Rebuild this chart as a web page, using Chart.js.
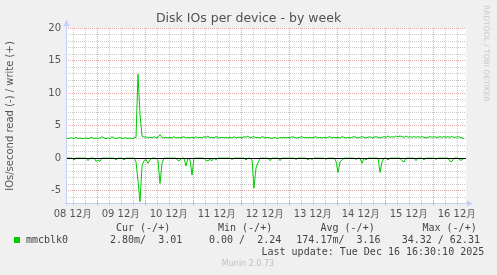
<!DOCTYPE html>
<html>
<head>
<meta charset="utf-8">
<script src="https://cdn.jsdelivr.net/npm/chart.js@4.4.1/dist/chart.umd.min.js"></script>
<style>
  body { margin: 0; background: #f0f0f0; }
  #wrap { width: 497px; height: 275px; }
</style>
</head>
<body>
<div id="wrap"><canvas id="myChart" width="497" height="275"></canvas></div>
<script>
// one value per hour, starting 08 Dec 08:30
const dayLabels = ['08 12月', '09 12月', '10 12月', '11 12月', '12 12月', '13 12月', '14 12月', '15 12月', '16 12月'];

const writeVals = [
    3.1,3.0,3.1,3.1,3.0,3.2,3.0,3.1,3.0,3.0,3.1,3.0,3.1,3.2,3.0,3.1,3.0,3.1,3.3,3.1,3.0,3.1,3.0,3.3,
    3.1,3.0,3.1,3.2,3.0,3.1,3.1,3.0,3.1,3.0,3.1,3.2,12.9,6.7,3.4,3.2,3.3,3.1,3.2,3.1,3.3,3.1,3.2,3.6,
    3.2,3.1,3.2,3.1,3.2,3.1,3.3,3.1,3.2,3.1,3.2,3.3,3.1,3.2,3.1,3.2,3.1,3.3,3.1,3.2,3.1,3.3,3.2,3.4,
    3.1,3.2,3.1,3.3,3.2,3.1,3.2,3.1,3.2,3.1,3.2,3.1,3.3,3.1,3.2,3.2,3.1,3.3,3.2,3.4,3.1,3.2,3.3,3.1,
    3.2,3.1,3.3,3.2,3.1,3.2,3.1,3.0,3.2,3.1,3.0,3.2,3.1,3.2,3.1,3.2,3.1,3.3,3.2,3.1,3.1,3.2,3.3,3.1,
    3.2,3.1,3.2,3.1,3.2,3.3,3.1,3.2,3.1,3.2,3.1,3.2,3.3,3.1,3.2,3.1,3.2,3.1,3.3,3.2,3.1,3.2,3.1,3.2,
    3.3,3.2,3.1,3.2,3.3,3.2,3.1,3.2,3.3,3.1,3.2,3.3,3.2,3.1,3.2,3.3,3.2,3.4,3.2,3.3,3.2,3.4,3.3,3.4,
    3.3,3.2,3.4,3.2,3.3,3.2,3.3,3.2,3.3,3.2,3.3,3.2,3.1,3.2,3.3,3.2,3.3,3.2,3.2,3.3,3.2,3.3,3.2,3.3,
    3.2,3.3,3.2,3.2,3.3,3.2,3.1,3.0
];

const readVals = [
    0,0,0,0,-0.3,0,0,0,0,0,0,-0.4,0,0,0,-0.5,-0.3,-0.5,0,0,0,0,0,0,
    0,-0.3,0,0,0,-0.3,0,0,0,0,0,-0.6,-3.5,-6.7,-1.2,-0.4,-0.2,-0.8,-0.3,0,0,0,-0.4,-3.9,
    -0.8,0,0,0,0,0,0,0,-0.4,-0.3,0,0,-1.2,0,-0.3,-2.6,0,0,0,0,0,0,-0.4,-0.4,
    -0.2,-0.4,0,-0.3,0,0,0,0,0,0,0,-0.2,0,0,0,0,0,0,-0.3,0,0,-0.3,-4.6,-1.5,
    -0.7,0,0,0,0,0,-0.4,0,0,0,0,-0.4,0,0,0,0,0,0,0,-0.2,0,0,0,0,
    0,-0.3,0,-0.2,0,0,0,0,0,0,-0.2,0,0,0,0,-0.5,-2.2,-0.6,-0.3,0,0,0,0,0,
    0,-0.2,0,0,-0.8,0,-0.3,0,0,0,0,0,0,-2.2,-0.6,0,0,-0.3,0,0,0,0,0,0,
    -0.4,-0.6,0,0,0,0,0,-0.4,0,0,0,-0.3,0,0,0,0,0,-0.2,0,0,0,0,0,0,
    -0.5,-0.5,0,0,0,-0.3,-0.3,0
];

const legendHead = ['Cur (-/+)', 'Min (-/+)', 'Avg (-/+)', 'Max (-/+)'];
const legendVals = ['2.80m/  3.01', '0.00 /  2.24', '174.17m/  3.16', '34.32 / 62.31'];

const GREEN = '#00cc00';
const MAJOR = '#e4a8a8';
const MINOR = '#cccccc';
const AXIS = '#c4cef6';

// ticks every 6h, first one is 08 12:00
const xTicks = [];
for (let h = 3.5; h < 200; h += 6) xTicks.push(h);
const yTicks = [];
for (let v = -6; v <= 20; v++) yTicks.push(v);

const isMidnight = v => (v - 15.5) % 24 === 0;
const isNoon = v => (v - 3.5) % 24 === 0;

const munin = {
    id: 'munin',
    beforeDraw(chart) {
        const { ctx, chartArea: a } = chart;
        ctx.save();
        ctx.fillStyle = '#ffffff';
        ctx.fillRect(a.left, a.top, a.right - a.left, a.bottom - a.top);
        ctx.restore();
    },
    afterDatasetsDraw(chart) {
        const { ctx, chartArea: a, scales } = chart;
        ctx.save();
        // zero rule
        const y0 = Math.round(scales.y.getPixelForValue(0)) + 0.5;
        ctx.strokeStyle = '#000';
        ctx.lineWidth = 1;
        ctx.beginPath();
        ctx.moveTo(a.left, y0);
        ctx.lineTo(a.right, y0);
        ctx.stroke();

        // axes with arrows
        const l = Math.round(a.left) + 0.5, b = Math.round(a.bottom) + 0.5;
        ctx.strokeStyle = AXIS;
        ctx.fillStyle = AXIS;
        ctx.beginPath();
        ctx.moveTo(l, b + 2);
        ctx.lineTo(l, a.top - 4);
        ctx.moveTo(l - 2, b);
        ctx.lineTo(a.right + 3, b);
        ctx.stroke();
        ctx.beginPath();
        ctx.moveTo(l, a.top - 8);
        ctx.lineTo(l - 3, a.top - 2);
        ctx.lineTo(l + 3, a.top - 2);
        ctx.closePath();
        ctx.fill();
        ctx.beginPath();
        ctx.moveTo(a.right + 7, b);
        ctx.lineTo(a.right + 1, b - 3);
        ctx.lineTo(a.right + 1, b + 3);
        ctx.closePath();
        ctx.fill();
        // small axis ticks
        xTicks.forEach(v => {
            const x = Math.round(scales.x.getPixelForValue(v)) + 0.5;
            ctx.strokeStyle = isMidnight(v) ? MAJOR : MINOR;
            ctx.beginPath();
            ctx.moveTo(x, b - 2);
            ctx.lineTo(x, b + 2);
            ctx.stroke();
        });
        ctx.restore();
    },
    afterDraw(chart) {
        const { ctx } = chart;
        ctx.save();
        ctx.textBaseline = 'middle';

        ctx.fillStyle = '#505050';
        ctx.font = '12.5px "DejaVu Sans"';
        ctx.textAlign = 'center';
        ctx.fillText('Disk IOs per device - by week', 248.5, 19);

        ctx.font = '10px "DejaVu Sans"';
        ctx.fillStyle = '#555';
        ctx.save();
        ctx.translate(10, 116);
        ctx.rotate(-Math.PI / 2);
        ctx.fillText('IOs/second read (-) / write (+)', 0, 0);
        ctx.restore();

        ctx.save();
        ctx.fillStyle = '#c8c8c8';
        ctx.font = '7.5px "DejaVu Sans"';
        ctx.textAlign = 'left';
        ctx.translate(486, 5);
        ctx.rotate(Math.PI / 2);
        ctx.fillText('RRDTOOL / TOBI OETIKER', 0, 0);
        ctx.restore();

        ctx.textAlign = 'left';
        ctx.font = '10px "DejaVu Sans Mono"';
        ctx.fillStyle = '#444';
        const headX = [116, 218, 320.5, 422.5];
        legendHead.forEach((t, i) => ctx.fillText(t, headX[i], 228));
        ctx.fillStyle = GREEN;
        ctx.fillRect(14, 237, 6, 6);
        ctx.fillStyle = '#444';
        ctx.fillText('mmcblk0', 26, 240);
        const valX = [110, 209, 296.3, 401.7];
        legendVals.forEach((t, i) => ctx.fillText(t, valX[i], 240));
        ctx.fillText('Last update: Tue Dec 16 16:30:10 2025', 261.5, 252);

        ctx.fillStyle = '#c0c0c0';
        ctx.font = '8px "DejaVu Sans"';
        ctx.textAlign = 'center';
        ctx.fillText('Munin 2.0.73', 248, 264);
        ctx.restore();
    }
};

Chart.defaults.font.family = '"DejaVu Sans"';
Chart.defaults.font.size = 10;
Chart.defaults.color = '#555';

const ctx = document.getElementById('myChart').getContext('2d');

new Chart(ctx, {
    type: 'line',
    data: {
        datasets: [
            {
                label: 'write',
                data: writeVals.map((v, i) => ({ x: i, y: v })),
                borderColor: GREEN,
                borderWidth: 1,
                pointRadius: 0,
                tension: 0,
                fill: false
            },
            {
                label: 'read',
                data: readVals.map((v, i) => ({ x: i, y: v })),
                borderColor: GREEN,
                borderWidth: 1,
                pointRadius: 0,
                tension: 0,
                fill: false
            }
        ]
    },
    options: {
        responsive: false,
        animation: false,
        events: [],
        layout: { padding: { left: 0, right: 31, top: 28, bottom: 52 } },
        plugins: {
            legend: { display: false },
            title: { display: false },
            tooltip: { enabled: false }
        },
        scales: {
            x: {
                type: 'linear',
                min: 0,
                max: 200,
                afterBuildTicks: s => { s.ticks = xTicks.map(v => ({ value: v })); },
                afterFit: s => { s.height = 20; },
                ticks: {
                    autoSkip: false,
                    maxRotation: 0,
                    padding: 5,
                    color: '#555',
                    callback: v => isNoon(v) ? dayLabels[(v - 3.5) / 24] : ''
                },
                grid: {
                    drawTicks: false,
                    color: c => isMidnight(c.tick.value) ? MAJOR : MINOR,
                    lineWidth: 1
                },
                border: { display: false, dash: [1, 1] }
            },
            y: {
                min: -6.9,
                max: 20,
                afterBuildTicks: s => { s.ticks = yTicks.map(v => ({ value: v })); },
                afterFit: s => { s.width = 66; },
                ticks: {
                    autoSkip: false,
                    padding: 5,
                    color: '#555',
                    callback: v => v % 5 === 0 ? String(v) : ''
                },
                grid: {
                    drawTicks: false,
                    color: c => c.tick.value % 5 === 0 ? MAJOR : MINOR,
                    lineWidth: 1
                },
                border: { display: false, dash: [1, 1] }
            }
        }
    },
    plugins: [munin]
});
</script>
</body>
</html>
